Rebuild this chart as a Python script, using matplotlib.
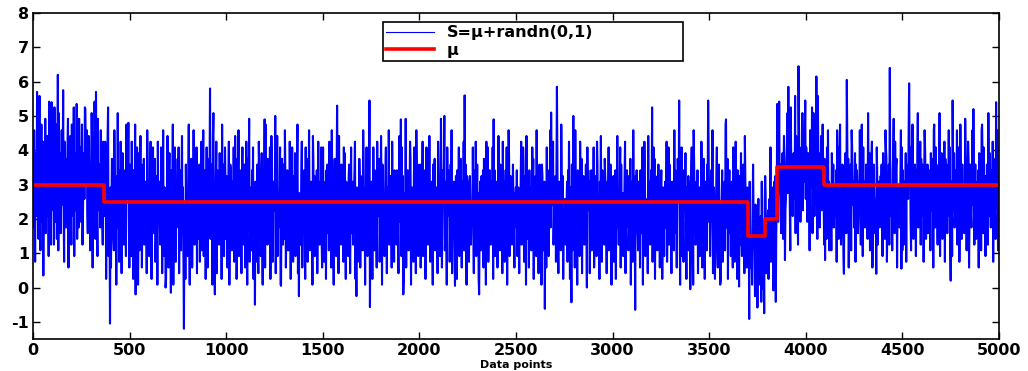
import numpy as np
import matplotlib
matplotlib.use('Agg')
import matplotlib.pyplot as plt

# piecewise mean level mu (step changes)
mu_edges = [0, 365, 3700, 3790, 3850, 4095, 5000]
mu_levels = [3.0, 2.5, 1.5, 2.0, 3.5, 3.0]

# hand-typed noise around mu, one character per sample (base-36 code)
noise_code = (
    "k9qf3mhbtdi7nwe5jraho2lcgs8kepbi4vmdf6qjhcn6ugalr7"
    "ei5tbmk8gqdhxc3ojf9lans2hdkpe6ribgu4mcjfq7hl9skdna"
    "gr6bjmeu3khqc8npfd5ilto2egbvj7mha4sfcki9qdnb6ogler"
    "m3hcsk7beqj5gonda8tifl2hcwem6kbrg4jpdi9fmc7uhqkbe5"
    "ndj7rgb3mkfu6eiqh2cp8lsdn5gajo9bkhe4tmcf7ilrd3gnqb"
    "cfo6ajl2rehkd9bqm4gt7ejin3hcsf5kpbd8mlhu2gaqe6jcko"
    "hq4emc8ksbj6rdg3nfia7luc2kgoe5bhtj9dmfq4lcian6egr8"
    "bkt7fhm3eqc5jodl8aing2swe6hbkr4mdjf9pcgl3ubnh7eqka"
    "ld5gjr2cnmh8ekbq6fsio3adlt7gmbe4kqhc9nj5frd2ohlv6c"
    "ej8mbq3hdsk6agnc4rlfe7ipb2mkgd5ujch9oelbq3fsnd6gki"
    "fm4kbs7hcejq2glod9nhatk5cfmi8ebrh3jgqd6lkcp7fbnu4h"
    "aig9dlr5kehmc3qbfo6jhtd8gkec2snbl7hfim4ergc9kdqa5j"
    "qc6hfk3mbnej8rdgi5tlca2hoek7jbmf4sgdl9nich6qepb3kg"
    "dh7lnc4gqbek9fimr3aujd6hcok5lebg8tmfh2jdqc7inka4fe"
    "kb3fqh8mdjc5rgelo6bhsi2nkdf7cmqe4jgbt9hlad5rekc6mg"
    "ge9mjb4ksdhf7qcln3eiav5kgmb8dhro2fjce6lqbh4tkdn7ci"
    "jn5echr7gmdk3bqfl9ahsi6egkc2ndmo8hbjf4rlce7gvk5dmh"
    "lf8bkd2qhmej6cngt4ifak9sdlh3mbeq7jcog5khdr8afne2lj"
    "ha6klf9egdqc4mjbr7hnei3tckg8lfam5ojdh2rbkq6cemg9dk"
    "eq3gdm7jhck5bsfl8nadi4rgek6hmcq2jbto7fldk9hngc5iej"
    "cm7hjb4efkr9dgqn6cli2sahek5mdjg8bqfo3kchl7tdei4gnb"
    "fj2nlc8gkhed5qamb7iftc3khgr9ejdl6mcob4hkfe8ujgl3da"
    "bh9egk6mdrf3jcqn8lhai5tegk2mbcd7rjfo4hkle9cgnb6qfm"
    "ik4cgm8hbeq5fjdl7rncha3kgse6mdbh9oljc4fkeq8hgnd2ak"
    "dl6hbm3kfsce9gjq5ndhi7aekr4hcmgl8bfdo2jkh6tgce9lbm"
    "gc8kdi5mhfbq2jlrn7eagh4sdkc9fmeb6hqjo3lgdk8cnhf5ei"
    "mf3bjh7gkcer6dlq9nahe4kicg8tbmdf5jolh2egk7qcbd6mhj"
    "pe3jhbl8dkf6mqcg2tnhe9akim4cfj7bdrl5hgoe3kcf8njbqd"
    "i7cmdgt4ejbh9fkqa5lnhc2rgem6bjdk8uhcfo3limbe7gkd5q"
    "cb6hrfj3mkdel9gpa7hcnb4skeg5jdmi2qhfbc8ltkge6mndj4"
    "hn8efbk5qdjgc3mrl7ahei6bkgt9dfcm4jnho2ekbl7gsdch5f"
    "dj4gmel9bhkqc6fna2rhdi8ejcbt5mkgf3lohd7ckbq9iegm6b"
    "kf7cjbh2nemdr5gqi8lachf4tkbe6jdm9gohc3lfke7nbqdh5g"
    "ae5mhdk9cgfbj3qln7ehrc6bikg4sdjmf8hoel2cgbk5qndfh9"
    "gm3kbjf8dheqc6lri4nahg9ckeb7tjdm5fhlo2cgkd8ebqni6h"
    "fh9ciekb4mdjg7qnl3ahck6rebdg5jmsf8ohkl2cdgb9eiqhn5"
    "jc6hdbm3kgfeq8lna5ihrd7cekg4jbmt9fhdo6lckbe3gqnh7d"
    "bk8ejgh5mcdfl2qra9nihc6ekdt4gbmj7fcho3lgke8dbqcn5h"
    "eh4gkcm9bjdfq6lnh3arie7kcdg8bsmj5hfol2ckeb9gqdnh6f"
    "kd7fhbj2mceg5qrl8nahi4cekd6tgbmf9jhdo3lkcb7geqn5hi"
)

# larger spikes: data point and S value
spike_x = [20, 97, 128, 226, 270, 326, 389, 493, 916, 1200, 1254, 1575, 1741,
           1905, 2129, 2234, 2383, 2681, 2712, 2797, 3205, 3345, 3495, 3587,
           3853, 3910, 3961, 3996, 4055, 4212, 4436, 4536, 4760, 4867, 4984,
           54, 399, 531, 686, 714, 781, 942, 1149, 1284, 1377, 1675, 1744,
           1916, 2185, 2310, 2650, 2788, 2866, 3118, 3349, 3401, 3530, 3559,
           3654, 3742, 3780, 3893, 4100, 4198, 4364, 4496, 4750]
spike_s = [5.7, 5.4, 6.2, 5.35, 5.2, 5.7, 5.25, 4.8, 5.8, 4.9, 5.0, 5.3, 5.45,
           4.9, 5.0, 5.6, 4.9, 5.1, 5.85, 5.0, 5.25, 5.45, 5.45, 4.9,
           5.35, 5.85, 6.45, 5.45, 6.15, 6.05, 6.4, 5.95, 5.45, 5.2, 5.4,
           0.35, -1.05, -0.2, 0.0, -0.15, -1.2, -0.2, -0.5, 0.05, -0.25, -0.25, -0.57,
           -0.2, 0.05, -0.2, -0.62, -0.43, 0.0, -0.65, 0.08, -0.05, 0.25, 0.2,
           0.03, 0.03, -0.04, 0.8, 0.8, 0.4, 0.4, 0.55, 0.2]

# decode the noise
alphabet = '0123456789abcdefghijklmnopqrstuvwxyz'
dev = (np.array([alphabet.index(c) for c in noise_code], float) - 16.5) / 6.0

x = np.linspace(1, 5000, len(dev))
mu = np.array(mu_levels)[np.digitize(x, mu_edges[1:-1])]
S = mu + dev
for sx, ss in zip(spike_x, spike_s):
    S[np.argmin(np.abs(x - sx))] = ss

plt.rcParams['font.family'] = 'DejaVu Sans'
plt.rcParams['font.weight'] = 'bold'
plt.rcParams['axes.unicode_minus'] = False

fig = plt.figure(figsize=(10.28, 3.71), dpi=100)
ax = fig.add_axes([33 / 1028, 32 / 371, 966 / 1028, 326 / 371])

ax.plot(x, S, color=(0, 0, 1), lw=1.5, label='S=μ+randn(0,1)')
ax.step(mu_edges, mu_levels + [mu_levels[-1]], where='post',
        color=(1, 0, 0), lw=2.6, label='μ')

ax.set_xlim(0, 5000)
ax.set_ylim(-1.5, 8)
ax.set_xticks(np.arange(0, 5001, 500))
ax.set_yticks(np.arange(-1, 9, 1))
ax.tick_params(direction='in', top=True, right=True, length=5, width=1,
               labelsize=11.5, pad=3)
for s in ax.spines.values():
    s.set_linewidth(1.2)
ax.set_xlabel('Data points', fontsize=8, fontweight='bold', labelpad=1)

leg = ax.legend(loc='upper left', bbox_to_anchor=(0.362, 0.972, 0.311, 0.0),
                mode='expand', fontsize=11.5, frameon=True, fancybox=False,
                framealpha=1, edgecolor='black', handlelength=3,
                labelspacing=0.15, borderpad=0.2, borderaxespad=0)
leg.get_frame().set_linewidth(1.2)
leg.get_lines()[0].set_linewidth(0.8)

fig.savefig('out.png', dpi=100)
